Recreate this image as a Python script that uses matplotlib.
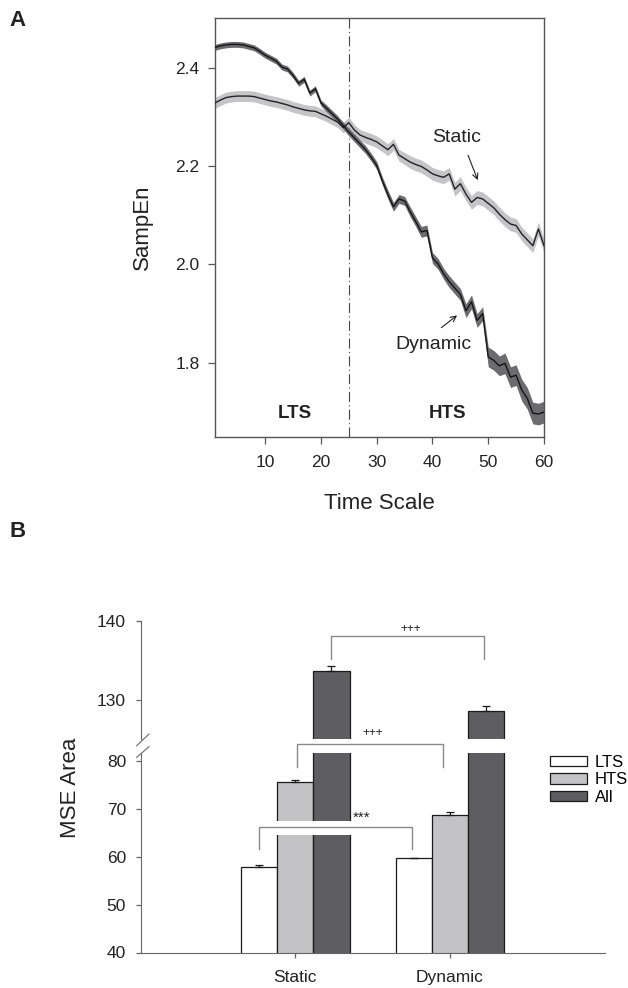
import matplotlib.pyplot as plt
from matplotlib.lines import Line2D
from matplotlib.patches import Patch, Rectangle
import numpy as np

plt.rcParams['font.family'] = ['Liberation Sans', 'DejaVu Sans']

# ---- A: sample entropy vs time scale ----
scales = np.arange(1, 61)
static_se = [2.328, 2.334, 2.339, 2.341, 2.342, 2.342, 2.342, 2.341, 2.338, 2.335,
             2.332, 2.330, 2.327, 2.324, 2.320, 2.317, 2.314, 2.312, 2.311, 2.306,
             2.301, 2.295, 2.289, 2.278, 2.288, 2.273, 2.263, 2.258, 2.254, 2.249,
             2.241, 2.233, 2.244, 2.222, 2.215, 2.208, 2.203, 2.199, 2.192, 2.184,
             2.180, 2.177, 2.184, 2.153, 2.164, 2.143, 2.126, 2.136, 2.133, 2.124,
             2.115, 2.102, 2.091, 2.082, 2.079, 2.062, 2.050, 2.038, 2.072, 2.038]
static_sem = [0.011, 0.011, 0.011, 0.011, 0.011, 0.011, 0.011, 0.011, 0.011, 0.011,
              0.011, 0.011, 0.011, 0.011, 0.011, 0.011, 0.011, 0.011, 0.011, 0.011,
              0.011, 0.011, 0.011, 0.011, 0.011, 0.011, 0.011, 0.012, 0.012, 0.012,
              0.012, 0.012, 0.012, 0.012, 0.012, 0.013, 0.013, 0.013, 0.013, 0.013,
              0.013, 0.013, 0.013, 0.014, 0.014, 0.014, 0.014, 0.014, 0.014, 0.014,
              0.014, 0.014, 0.014, 0.014, 0.014, 0.014, 0.014, 0.014, 0.014, 0.014]
dynamic_se = [2.441, 2.444, 2.446, 2.447, 2.447, 2.446, 2.443, 2.440, 2.433, 2.425,
              2.419, 2.413, 2.401, 2.397, 2.384, 2.368, 2.376, 2.348, 2.357, 2.328,
              2.317, 2.306, 2.295, 2.282, 2.269, 2.257, 2.245, 2.233, 2.218, 2.201,
              2.170, 2.142, 2.117, 2.133, 2.129, 2.107, 2.087, 2.066, 2.069, 2.013,
              2.001, 1.981, 1.965, 1.952, 1.939, 1.906, 1.924, 1.886, 1.900, 1.812,
              1.805, 1.794, 1.799, 1.771, 1.775, 1.745, 1.728, 1.698, 1.696, 1.700]
dynamic_sem = [0.006, 0.006, 0.006, 0.006, 0.006, 0.006, 0.006, 0.006, 0.006, 0.006,
               0.006, 0.006, 0.006, 0.006, 0.006, 0.006, 0.006, 0.006, 0.006, 0.006,
               0.007, 0.007, 0.007, 0.007, 0.008, 0.008, 0.008, 0.008, 0.008, 0.008,
               0.008, 0.009, 0.009, 0.009, 0.009, 0.010, 0.010, 0.011, 0.011, 0.011,
               0.011, 0.011, 0.012, 0.012, 0.012, 0.014, 0.014, 0.014, 0.014, 0.020,
               0.020, 0.020, 0.021, 0.021, 0.021, 0.022, 0.022, 0.022, 0.022, 0.022]
boundary = 25

# ---- B: MSE area ----
groups = ['Static', 'Dynamic']
bands = ['LTS', 'HTS', 'All']
area_lts = [57.9, 59.6]
area_hts = [75.5, 68.7]
area_all = [133.6, 128.55]
err_lts = [0.35, 0.15]
err_hts = [0.4, 0.55]
err_all = [0.7, 0.6]

W, H = 628, 988
fig = plt.figure(figsize=(W / 100, H / 100), dpi=100)


def rect(x0, y0, x1, y1):
    # pixel box -> figure fraction
    return [x0 / W, 1 - y1 / H, (x1 - x0) / W, (y1 - y0) / H]


ink = '#222222'
spine_c = '#555555'

# ======== panel A ========
ax1 = fig.add_axes(rect(215, 18.3, 544, 436.7))
ax1.fill_between(scales, np.array(static_se) - static_sem, np.array(static_se) + static_sem,
                 color='#c5c5c8', lw=0, zorder=2)
ax1.plot(scales, static_se, color=ink, lw=1.0, zorder=3)
ax1.fill_between(scales, np.array(dynamic_se) - dynamic_sem, np.array(dynamic_se) + dynamic_sem,
                 color='#6c6c70', lw=0, zorder=2)
ax1.plot(scales, dynamic_se, color='#151515', lw=1.0, zorder=3)
ax1.axvline(boundary, color='#444444', lw=0.8, ls=(0, (9, 3, 1, 3)), zorder=1)

ax1.set_xlim(1, 60)
ax1.set_ylim(1.65, 2.5)
ax1.set_xticks([10, 20, 30, 40, 50, 60])
ax1.set_yticks([1.8, 2.0, 2.2, 2.4])
ax1.set_yticklabels(['1.8', '2.0', '2.2', '2.4'])
ax1.tick_params(direction='out', length=5, width=0.9, color=spine_c,
                labelsize=12.5, labelcolor=ink)
ax1.tick_params(axis='x', pad=8)
ax1.tick_params(axis='y', pad=6)
for s in ax1.spines.values():
    s.set_color(spine_c)
    s.set_linewidth(1.0)

ax1.set_xlabel('Time Scale', fontsize=16, color=ink)
ax1.xaxis.set_label_coords(0.5, -0.135)
ax1.set_ylabel('SampEn', fontsize=16, color=ink)
ax1.yaxis.set_label_coords(-0.19, 0.5)

ax1.text(15.3, 1.697, 'LTS', fontsize=13.5, fontweight='bold', color=ink,
         ha='center', va='center')
ax1.text(42.7, 1.697, 'HTS', fontsize=13.5, fontweight='bold', color=ink,
         ha='center', va='center')
ax1.text(44.4, 2.258, 'Static', fontsize=14, color=ink, ha='center', va='center')
ax1.annotate('', xy=(48.3, 2.166), xytext=(46.2, 2.227),
             arrowprops=dict(arrowstyle='->', lw=0.8, color=ink, mutation_scale=10))
ax1.text(40.2, 1.837, 'Dynamic', fontsize=14, color=ink, ha='center', va='center')
ax1.annotate('', xy=(44.8, 1.900), xytext=(41.2, 1.868),
             arrowprops=dict(arrowstyle='->', lw=0.8, color=ink, mutation_scale=10))

fig.text(18 / W, 1 - 20 / H, 'A', fontsize=16, fontweight='bold', color=ink,
         ha='center', va='center')
fig.text(18 / W, 1 - 531 / H, 'B', fontsize=16, fontweight='bold', color=ink,
         ha='center', va='center')

# ======== panel B (broken y axis) ========
ax_hi = fig.add_axes(rect(140.6, 620.7, 604.6, 739))
ax_lo = fig.add_axes(rect(140.6, 752.5, 604.6, 952.5))

xg = np.array([1.0, 2.0])
bw = 0.234
colors = ['white', '#c3c3c6', '#5e5e62']
vals = [area_lts, area_hts, area_all]
errs = [err_lts, err_hts, err_all]
for ax in (ax_hi, ax_lo):
    for k in range(3):
        xs = xg + (k - 1) * bw
        ax.bar(xs, vals[k], width=bw, color=colors[k], edgecolor='#1a1a1a',
               linewidth=0.9, zorder=2)
        ax.errorbar(xs, vals[k], yerr=[[0, 0], errs[k]], fmt='none', ecolor='#1a1a1a',
                    elinewidth=0.9, capsize=3.2, capthick=0.9, zorder=3)
    ax.set_xlim(0, 3)
    ax.spines['top'].set_visible(False)
    ax.spines['right'].set_visible(False)
    ax.spines['left'].set_color('#666666')
    ax.spines['bottom'].set_color('#666666')
    ax.tick_params(direction='out', length=3.5, width=0.9, color='#666666',
                   labelsize=12.5, labelcolor=ink, pad=7)

ax_hi.set_ylim(125, 140)
ax_hi.set_yticks([130, 140])
ax_hi.spines['bottom'].set_visible(False)
ax_hi.set_xticks([])

ax_lo.set_ylim(40, 81.7)
ax_lo.set_yticks([40, 50, 60, 70, 80])
ax_lo.set_xticks(xg)
ax_lo.set_xticklabels(groups)
ax_lo.tick_params(axis='x', labelsize=12.5, pad=9)

fig.text(70 / W, 1 - 788 / H, 'MSE Area', fontsize=16, color=ink, rotation=90,
         ha='center', va='center')

# axis break marks
for y0, y1 in [(745.7, 734.0), (757.3, 746.7)]:
    fig.add_artist(Line2D([136.7 / W, 149 / W], [1 - y0 / H, 1 - y1 / H],
                          color='#777777', lw=0.9))

brk = '#8a8a8a'
# Static vs Dynamic, LTS
ax_lo.add_patch(Rectangle((0.766, 64.4), 1.752 - 0.766, 3.0, facecolor='white',
                          edgecolor='none', zorder=4))
ax_lo.plot([0.766, 0.766, 1.752, 1.752], [61.5, 66.25, 66.25, 61.5], color=brk, lw=1.0,
           zorder=5)
ax_lo.text(1.43, 67.2, '***', fontsize=11, color=ink, ha='center', va='baseline', zorder=6)
# Static vs Dynamic, HTS (drawn across the break)
ax_lo.plot([1.01, 1.01, 1.958, 1.958], [78.7, 83.5, 83.5, 78.7], color=brk, lw=1.0,
           zorder=5, clip_on=False)
ax_hi.text(1.503, 125.4, '+++', fontsize=8.5, color=ink, ha='center', va='baseline')
# Static vs Dynamic, All
ax_hi.plot([1.232, 1.232, 2.222, 2.222], [135.2, 138.05, 138.05, 135.2], color=brk,
           lw=1.0, zorder=5)
ax_hi.text(1.749, 138.56, '+++', fontsize=8.5, color=ink, ha='center', va='baseline')

handles = [Patch(facecolor=c, edgecolor='#1a1a1a', linewidth=0.9) for c in colors]
fig.legend(handles, bands, loc='upper left', bbox_to_anchor=(550 / W, 1 - 755 / H),
           frameon=False, fontsize=12, handlelength=2.2, handleheight=0.6,
           handletextpad=0.5, labelspacing=0.15, borderpad=0, borderaxespad=0)

fig.savefig('out.png', dpi=100, facecolor='white')
